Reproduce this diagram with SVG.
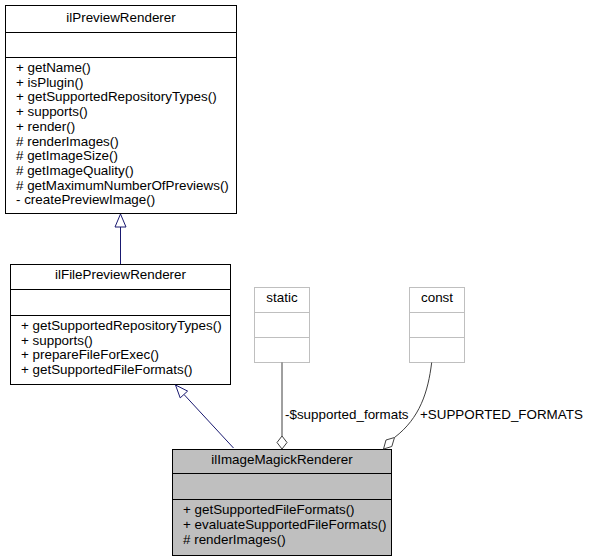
<svg xmlns="http://www.w3.org/2000/svg" width="590" height="560" viewBox="0 0 590 560">
<style>
text{font-family:"Liberation Sans",Arial,Helvetica,sans-serif;font-size:13.4px;fill:#000}
.t{text-anchor:middle}
.box{fill:#fff;stroke:#000;stroke-width:1}
.sep{stroke:#000;stroke-width:1}
.gbox{fill:#fff;stroke:#bfbfbf;stroke-width:1}
.gsep{stroke:#bfbfbf;stroke-width:1}
.cur{fill:#bfbfbf;stroke:#000;stroke-width:1}
.inh{fill:none;stroke:#191970;stroke-width:1}
.inhhead{fill:#fff;stroke:#191970;stroke-width:1}
.agg{fill:none;stroke:#404040;stroke-width:1}
.agghead{fill:#fff;stroke:#404040;stroke-width:1}
</style>
<rect width="590" height="560" fill="#fff"/>
<g id="ilPreviewRenderer">
<rect class="box" x="5.5" y="5.5" width="231" height="208"/>
<line class="sep" x1="5.5" y1="32.5" x2="236.5" y2="32.5"/>
<line class="sep" x1="5.5" y1="57.5" x2="236.5" y2="57.5"/>
<text class="t" x="121" y="22">ilPreviewRenderer</text>
<text x="16" y="72">+ getName()</text>
<text x="16" y="86.7">+ isPlugin()</text>
<text x="16" y="101.4">+ getSupportedRepositoryTypes()</text>
<text x="16" y="116.1">+ supports()</text>
<text x="16" y="130.8">+ render()</text>
<text x="16" y="145.5"># renderImages()</text>
<text x="16" y="160.2"># getImageSize()</text>
<text x="16" y="174.9"># getImageQuality()</text>
<text x="16" y="189.6"># getMaximumNumberOfPreviews()</text>
<text x="16" y="204.3">- createPreviewImage()</text>
</g>
<g id="ilFilePreviewRenderer">
<rect class="box" x="10.5" y="264.5" width="220" height="120"/>
<line class="sep" x1="10.5" y1="289.5" x2="230.5" y2="289.5"/>
<line class="sep" x1="10.5" y1="315.5" x2="230.5" y2="315.5"/>
<text class="t" x="120.5" y="279">ilFilePreviewRenderer</text>
<text x="21" y="330">+ getSupportedRepositoryTypes()</text>
<text x="21" y="344.7">+ supports()</text>
<text x="21" y="359.4">+ prepareFileForExec()</text>
<text x="21" y="374.1">+ getSupportedFileFormats()</text>
</g>
<g id="static">
<rect class="gbox" x="254.5" y="287.5" width="55" height="75"/>
<line class="gsep" x1="254.5" y1="312.5" x2="309.5" y2="312.5"/>
<line class="gsep" x1="254.5" y1="337.5" x2="309.5" y2="337.5"/>
<text class="t" x="282" y="302">static</text>
</g>
<g id="const">
<rect class="gbox" x="409.5" y="287.5" width="55" height="75"/>
<line class="gsep" x1="409.5" y1="312.5" x2="464.5" y2="312.5"/>
<line class="gsep" x1="409.5" y1="337.5" x2="464.5" y2="337.5"/>
<text class="t" x="437" y="302">const</text>
</g>
<g id="ilImageMagickRenderer">
<rect class="cur" x="172.5" y="449.5" width="219" height="106"/>
<line class="sep" x1="172.5" y1="473.5" x2="391.5" y2="473.5"/>
<line class="sep" x1="172.5" y1="499.5" x2="391.5" y2="499.5"/>
<text class="t" x="282" y="464">ilImageMagickRenderer</text>
<text x="183" y="514">+ getSupportedFileFormats()</text>
<text x="183" y="528.8">+ evaluateSupportedFileFormats()</text>
<text x="183" y="543.6"># renderImages()</text>
</g>
<g id="connectors">
<line class="inh" x1="120.5" y1="227" x2="120.5" y2="264"/>
<polygon class="inhhead" points="120.5,214 126,227 115,227"/>
<line class="inh" x1="184" y1="394.5" x2="233.5" y2="448"/>
<polygon class="inhhead" points="175.5,385 187.6,391.1 180.2,397.9"/>
<line class="agg" x1="282" y1="362.5" x2="282" y2="436"/>
<polygon class="agghead" points="282,436 287,442.5 282,449 277,442.5"/>
<path class="agg" d="M431.7,362.5 C428,392 420,418 394.5,437.5"/>
<polygon class="agghead" points="394.5,437.5 391.8,446.5 383.5,449 386,440"/>
<text x="285" y="419">-$supported_formats</text>
<text x="420" y="419">+SUPPORTED_FORMATS</text>
</g>
</svg>
